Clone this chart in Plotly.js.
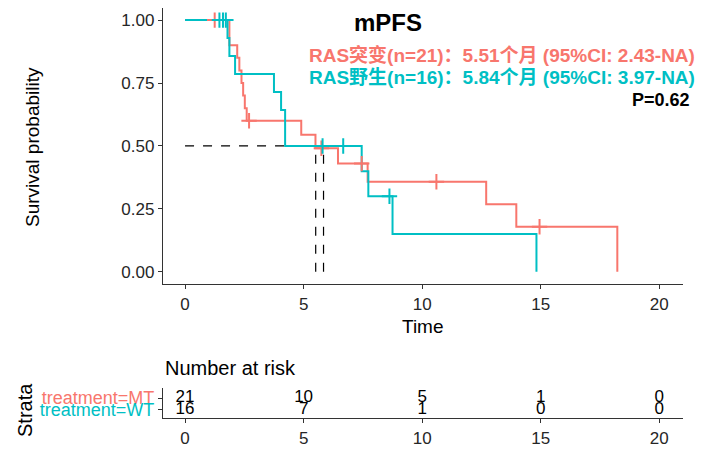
<!DOCTYPE html>
<html><head><meta charset="utf-8">
<script src="https://cdn.plot.ly/plotly-3.0.1.min.js"></script>
<style>html,body{margin:0;padding:0;background:#fff;}#chart{width:707px;height:456px;}</style>
</head><body><div id="chart"></div>
<script>
// ---- data ----
const mtTime = [0, 1.87, 2.20, 2.29, 2.38, 2.45, 2.52, 2.60, 4.90, 5.50, 6.45, 7.70, 12.70, 13.97, 18.23];
const mtSurv = [1, 0.900, 0.850, 0.800, 0.750, 0.700, 0.650, 0.600, 0.545, 0.491, 0.430, 0.358, 0.268, 0.179, 0];
const mtCensTime = [1.25, 2.70, 5.75, 7.45, 10.6, 14.95];
const mtCensSurv = [1, 0.600, 0.491, 0.430, 0.358, 0.179];

const wtTime = [0, 1.79, 1.87, 2.11, 3.75, 4.05, 4.22, 7.45, 7.73, 8.75, 14.82];
const wtSurv = [1, 0.929, 0.857, 0.786, 0.714, 0.643, 0.500, 0.400, 0.300, 0.150, 0];
const wtCensTime = [1.45, 1.60, 1.72, 5.80, 6.67, 8.62];
const wtCensSurv = [1, 1, 1, 0.500, 0.500, 0.300];

const medians = [5.51, 5.84];
const riskTimes = [0, 5, 10, 15, 20];
const riskMT = [21, 10, 5, 1, 0];
const riskWT = [16, 7, 1, 0, 0];
const strataLabels = ['treatment=MT', 'treatment=WT'];
const yTicks = [0, 0.25, 0.5, 0.75, 1];
const yTickText = ['0.00', '0.25', '0.50', '0.75', '1.00'];
const xTicks = [0, 5, 10, 15, 20];

const RED = '#F8766D', CYAN = '#00BFC4';
const FONT = 'Liberation Sans, Arial, Noto Sans CJK SC, sans-serif';

const traces = [];
const medMax = Math.max(...medians);
traces.push({x: [0, medMax], y: [0.5, 0.5], mode: 'lines', line: {color: '#000', width: 1.2, dash: 'dash'}, xaxis: 'x', yaxis: 'y', hoverinfo: 'skip'});
medians.forEach(m => traces.push({x: [m, m], y: [0, 0.5], mode: 'lines', line: {color: '#000', width: 1.2, dash: 'dash'}, xaxis: 'x', yaxis: 'y', hoverinfo: 'skip'}));
traces.push({x: mtTime, y: mtSurv, mode: 'lines', line: {shape: 'hv', color: RED, width: 2}, xaxis: 'x', yaxis: 'y'});
traces.push({x: wtTime, y: wtSurv, mode: 'lines', line: {shape: 'hv', color: CYAN, width: 2}, xaxis: 'x', yaxis: 'y'});
traces.push({x: mtCensTime, y: mtCensSurv, mode: 'markers', marker: {symbol: 'cross-thin', size: 11, line: {color: RED, width: 2}}, xaxis: 'x', yaxis: 'y'});
traces.push({x: wtCensTime, y: wtCensSurv, mode: 'markers', marker: {symbol: 'cross-thin', size: 11, line: {color: CYAN, width: 2}}, xaxis: 'x', yaxis: 'y'});
traces.push({x: riskTimes, y: riskTimes.map(() => 2), text: riskMT.map(String), mode: 'text', textfont: {family: FONT, size: 17, color: '#000'}, xaxis: 'x2', yaxis: 'y2'});
traces.push({x: riskTimes, y: riskTimes.map(() => 1), text: riskWT.map(String), mode: 'text', textfont: {family: FONT, size: 17, color: '#000'}, xaxis: 'x2', yaxis: 'y2'});

const axLine = {showline: true, linecolor: '#333', linewidth: 1.2, ticks: 'outside', ticklen: 4, tickcolor: '#333', showgrid: false, zeroline: false};

function ann(o) { return Object.assign({xref: 'paper', yref: 'paper', showarrow: false, xanchor: 'center', yanchor: 'middle'}, o); }
const px = v => (v - 163) / 520;
const py = v => (418 - v) / 410;

const layout = {
  width: 707, height: 456,
  margin: {l: 163, r: 24, t: 8, b: 38},
  paper_bgcolor: '#fff', plot_bgcolor: '#fff',
  showlegend: false,
  font: {family: FONT, color: '#000'},
  xaxis: Object.assign({}, axLine, {domain: [0, 1], range: [-0.93, 21], tickvals: xTicks, ticktext: xTicks.map(String), tickfont: {size: 17, color: '#262626'}, anchor: 'y'}),
  yaxis: Object.assign({}, axLine, {domain: [0.327, 1], range: [-0.048, 1.048], tickvals: yTicks, ticktext: yTickText, tickfont: {size: 17, color: '#262626'}, anchor: 'x'}),
  xaxis2: Object.assign({}, axLine, {domain: [0, 1], range: [-0.93, 21], tickvals: xTicks, ticktext: xTicks.map(String), tickfont: {size: 17, color: '#262626'}, anchor: 'y2'}),
  yaxis2: Object.assign({}, axLine, {domain: [0, 0.073], range: [0.33, 2.83], tickvals: [2, 1],
    ticktext: ['<span style="color:' + RED + '">' + strataLabels[0] + '</span>', '<span style="color:' + CYAN + '">' + strataLabels[1] + '</span>'],
    tickfont: {size: 18}, anchor: 'x2'}),
  annotations: [
    ann({text: '<b>mPFS</b>', x: px(388), y: py(22), font: {size: 24, color: '#000'}}),
    ann({text: '<b>RAS突变(n=21)：5.51个月 (95%CI: 2.43-NA)</b>', x: px(697), y: py(55), xanchor: 'right', font: {size: 19, color: RED}}),
    ann({text: '<b>RAS野生(n=16)：5.84个月 (95%CI: 3.97-NA)</b>', x: px(697), y: py(77), xanchor: 'right', font: {size: 19, color: CYAN}}),
    ann({text: '<b>P=0.62</b>', x: px(692), y: py(100), xanchor: 'right', font: {size: 18, color: '#000'}}),
    ann({text: 'Survival probability', x: px(32), y: py(147), textangle: -90, font: {size: 19, color: '#000'}}),
    ann({text: 'Time', x: px(423), y: py(326), font: {size: 19, color: '#000'}}),
    ann({text: 'Number at risk', x: px(163), xanchor: 'left', y: py(368), font: {size: 20, color: '#000'}}),
    ann({text: 'Strata', x: px(25), y: py(410), textangle: -90, font: {size: 20, color: '#000'}})
  ]
};
Plotly.newPlot('chart', traces, layout, {displayModeBar: false, staticPlot: true});
</script></body></html>
